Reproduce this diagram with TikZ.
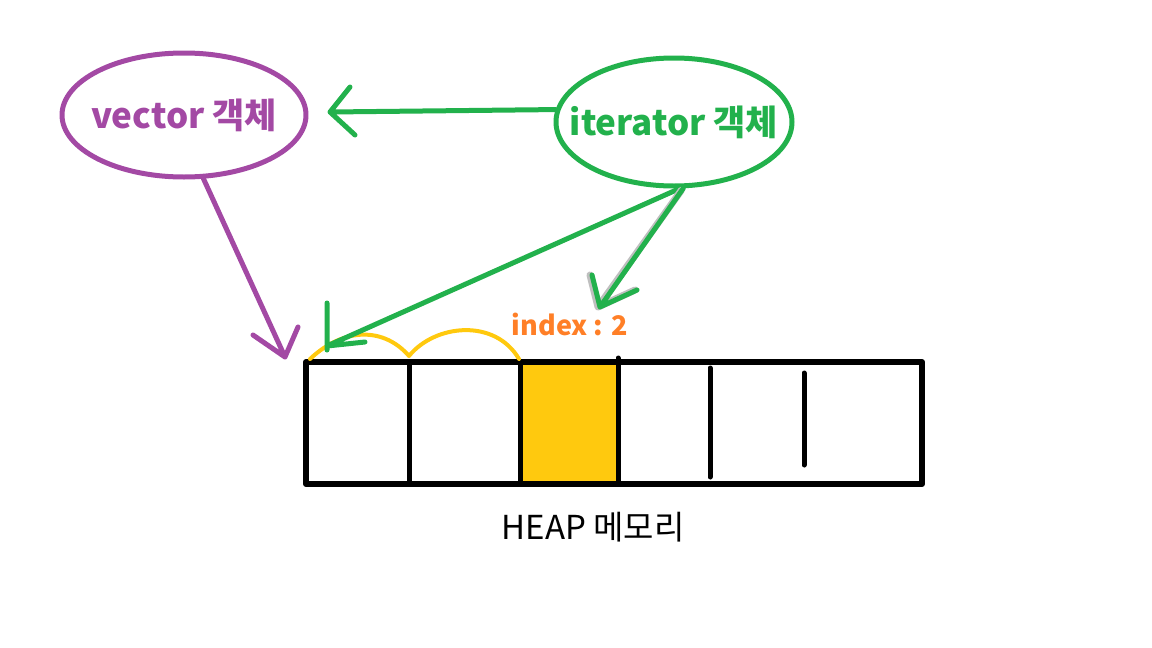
\documentclass[tikz,border=0pt]{standalone}
\usepackage{fontspec}
\newfontfamily\krfont{Noto Sans CJK KR}
\usetikzlibrary{shapes.geometric,positioning}
\definecolor{vecpurple}{HTML}{A349A4}
\definecolor{itgreen}{HTML}{22B14C}
\definecolor{idxorange}{HTML}{FF7F27}
\definecolor{memyellow}{HTML}{FFC90E}

\begin{document}
\begin{tikzpicture}[x=1pt,y=-1pt,line cap=round,line join=round,
      every node/.style={inner sep=0pt},
      obj/.style={ellipse,draw,line width=5pt,inner xsep=-40pt,minimum width=244pt,minimum height=124pt,
        font=\krfont\bfseries\fontsize{35}{40}\selectfont},
      ptr/.style={line width=5pt}]
      \useasboundingbox(0,0)rectangle(1152,648);
      \node[obj,vecpurple,text=vecpurple](vec)at(184,115){vector 객체};
      \node[obj,itgreen,text=itgreen,minimum width=236pt,minimum height=128pt](iter)at(674,122){iterator 객체};
      % heap memory
      \fill[memyellow](520,362)rectangle(618,484);
      \node[draw,line width=6pt,minimum width=616pt,minimum height=122pt](heap)at(614,423){};
      \draw[line width=5pt](409,362)--(409,484)(520,362)--(520,484)(618,358)--(618,484)
        (710,368)--(710,477)(804,373)--(804,465);
      \node[font=\krfont\fontsize{33}{38}\selectfont](heaplbl)at(593,527){HEAP 메모리};
      \node[font=\krfont\bfseries\fontsize{27}{31}\selectfont,text=idxorange](idx)at(570,324){index : 2};
      % steps over the cells
      \draw[memyellow,line width=4pt](310,359)..controls(345,326)and(385,328)..(409,356)
        ..controls(435,324)and(495,318)..(519,359);
      % pointers
      \coordinate(vtip)at(330,112);
      \coordinate(htip)at(285,357);
      \coordinate(btip)at(327,346);
      \coordinate(itip)at(600,307);
      \draw[ptr,itgreen](iter.174)--(vtip)++(20,-25)--(vtip)--++(25,23);
      \draw[ptr,vecpurple](vec.-73)--(htip)++(-32,-22)--(htip)--++(13,-30);
      \draw[ptr,itgreen](iter.-85)--(btip)(327,303)--(327,350)(btip)--++(38,-4);
      \draw[line width=7pt,black!25](iter.-82)++(-2,2)--([shift={(-2,0)}]itip)
        ++(-8,-32)--([shift={(-2,0)}]itip)--++(37,-17);
      \draw[ptr,itgreen](iter.-82)--(itip)++(-8,-32)--(itip)--++(37,-17);
    \end{tikzpicture}
\end{document}
